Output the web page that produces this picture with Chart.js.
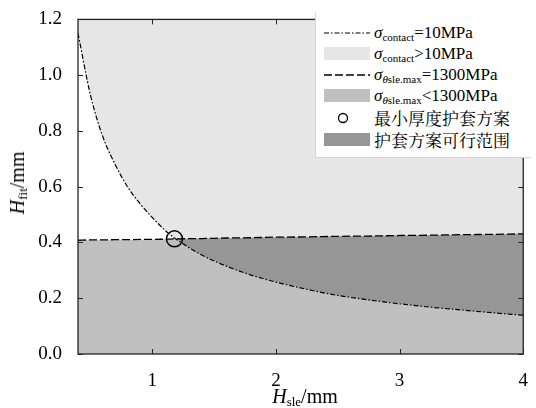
<!DOCTYPE html>
<html>
<head>
<meta charset="utf-8">
<script src="https://cdn.jsdelivr.net/npm/chart.js@4.4.1/dist/chart.umd.min.js"></script>
<style>
  html, body { margin:0; padding:0; background:#fff; }
  #wrap { position:relative; width:536px; height:408px; overflow:hidden; }
  canvas { position:absolute; left:0; top:0; }
  .serif { font-family:"Liberation Serif","Times New Roman",Times,serif; color:#000; }
  .cjk { font-family:"Noto Serif CJK SC","Noto Sans CJK SC",serif; color:#000; }
  #legend { position:absolute; left:315px; top:12px; width:215px; height:145px; background:#fff; border-left:1px solid #d4d4d4; border-bottom:1px solid #d4d4d4; }
  .row { position:absolute; left:0; height:21px; width:215px; }
  .sym { position:absolute; left:8px; top:0; width:46px; height:21px; }
  .txt { position:absolute; left:58px; top:0; line-height:21px; font-size:17px; white-space:nowrap; }
  .txt sub { font-size:11px; vertical-align:-3px; line-height:0; }
  #xtitle { position:absolute; left:0; width:536px; top:386px; line-height:20px; text-align:center; padding-left:74px; box-sizing:border-box; font-size:20px; }
  #ytitle { position:absolute; left:17px; top:183px; line-height:20px; transform:translate(-50%,-50%) rotate(-90deg); font-size:20px; white-space:nowrap; }
  sub.ax { font-size:13px; vertical-align:-3px; line-height:0; }
</style>
</head>
<body>
<div id="wrap">
  <canvas id="c" width="536" height="408"></canvas>
  <div id="xtitle" class="serif"><i>H</i><sub class="ax">sle</sub>/mm</div>
  <div id="ytitle" class="serif"><i>H</i><sub class="ax">fit</sub>/mm</div>
  <div id="legend">
    <div class="row" style="top:10px">
      <svg class="sym"><line x1="0" y1="11" x2="46" y2="11" stroke="#000" stroke-width="1.2" stroke-dasharray="5,2,1.5,2"/></svg>
      <div class="txt serif"><i>σ</i><sub>contact</sub>=10MPa</div>
    </div>
    <div class="row" style="top:31px">
      <svg class="sym"><rect x="0" y="4" width="46" height="13" fill="#e6e6e6"/></svg>
      <div class="txt serif"><i>σ</i><sub>contact</sub>&gt;10MPa</div>
    </div>
    <div class="row" style="top:52px">
      <svg class="sym"><line x1="0" y1="11" x2="46" y2="11" stroke="#000" stroke-width="1.3" stroke-dasharray="8,3"/></svg>
      <div class="txt serif"><i>σ</i><sub><i>θ</i>sle.max</sub>=1300MPa</div>
    </div>
    <div class="row" style="top:73px">
      <svg class="sym"><rect x="0" y="4" width="46" height="13" fill="#c0c0c0"/></svg>
      <div class="txt serif"><i>σ</i><sub><i>θ</i>sle.max</sub>&lt;1300MPa</div>
    </div>
    <div class="row" style="top:95px">
      <svg class="sym"><circle cx="19" cy="11" r="4.5" fill="none" stroke="#000" stroke-width="1.3"/></svg>
      <div class="txt cjk">最小厚度护套方案</div>
    </div>
    <div class="row" style="top:117px">
      <svg class="sym"><rect x="0" y="4" width="46" height="13" fill="#969696"/></svg>
      <div class="txt cjk">护套方案可行范围</div>
    </div>
  </div>
</div>
<script>
// ---- data ----
const hSle = [0.4, 0.5, 0.6, 0.7, 0.8, 0.9, 1.0, 1.1, 1.2, 1.4, 1.6, 1.8, 2.0, 2.25, 2.5, 2.75, 3.0, 3.25, 3.5, 3.75, 4.0];
const hFitContact = [1.15, 0.93, 0.78, 0.68, 0.60, 0.54, 0.49, 0.445, 0.41, 0.355, 0.315, 0.283, 0.258, 0.232, 0.21, 0.194, 0.18, 0.168, 0.158, 0.148, 0.139];
const hFitStress = [0.408, 0.409, 0.409, 0.410, 0.410, 0.411, 0.411, 0.412, 0.413, 0.414, 0.416, 0.417, 0.419, 0.420, 0.422, 0.423, 0.425, 0.426, 0.428, 0.429, 0.431];
const minPoint = [{x: 1.18, y: 0.413}];
const xTicks = [1, 2, 3, 4];
const yTicks = [0.0, 0.2, 0.4, 0.6, 0.8, 1.0, 1.2];

const pts = arr => hSle.map((x, i) => ({x: x, y: arr[i]}));

const LIGHT = '#e6e6e6', MID = '#c0c0c0', DARK = '#969696';
const SERIF = '"Liberation Serif", "Times New Roman", Times, serif';

const framePlugin = {
  id: 'frame',
  afterDatasetsDraw(chart) {
    const {ctx, chartArea: a, scales} = chart;
    ctx.save();
    ctx.strokeStyle = '#222';
    ctx.lineWidth = 1.3;
    ctx.strokeRect(a.left, a.top, a.right - a.left, a.bottom - a.top);
    ctx.lineWidth = 1;
    const L = 5;
    ctx.beginPath();
    xTicks.forEach(v => {
      const px = Math.round(scales.x.getPixelForValue(v)) + 0.5;
      ctx.moveTo(px, a.bottom); ctx.lineTo(px, a.bottom - L);
      ctx.moveTo(px, a.top); ctx.lineTo(px, a.top + L);
    });
    yTicks.forEach(v => {
      const py = Math.round(scales.y.getPixelForValue(v)) + 0.5;
      ctx.moveTo(a.left, py); ctx.lineTo(a.left + L, py);
      ctx.moveTo(a.right, py); ctx.lineTo(a.right - L, py);
    });
    ctx.stroke();
    ctx.restore();
  }
};

function build() {
new Chart(document.getElementById('c'), {
  type: 'line',
  data: {
    datasets: [
      { // 0 contact line
        data: pts(hFitContact), borderColor: '#000', borderWidth: 1.2,
        borderDash: [5, 2, 1.5, 2], pointRadius: 0, fill: false,
        cubicInterpolationMode: 'monotone', order: 1
      },
      { // 1 stress line
        data: pts(hFitStress), borderColor: '#000', borderWidth: 1.3,
        borderDash: [8, 3], pointRadius: 0, fill: false,
        cubicInterpolationMode: 'monotone', order: 1
      },
      { // 2 minimum thickness point
        type: 'scatter', data: minPoint, pointRadius: 8, pointBorderWidth: 1.5,
        pointBorderColor: '#000', pointBackgroundColor: 'rgba(0,0,0,0)',
        showLine: false, order: 0
      },
      { // 3 contact region fill (above curve)
        data: pts(hFitContact), borderWidth: 0, borderColor: 'rgba(0,0,0,0)',
        backgroundColor: LIGHT, pointRadius: 0, fill: 'end',
        cubicInterpolationMode: 'monotone', order: 10
      },
      { // 4 stress region fill (below line)
        data: pts(hFitStress), borderWidth: 0, borderColor: 'rgba(0,0,0,0)',
        backgroundColor: MID, pointRadius: 0, fill: 'origin',
        cubicInterpolationMode: 'monotone', order: 9
      },
      { // 5 feasible region
        data: pts(hFitStress), borderWidth: 0, borderColor: 'rgba(0,0,0,0)',
        backgroundColor: DARK, pointRadius: 0,
        fill: {target: 3, above: DARK, below: 'rgba(0,0,0,0)'},
        cubicInterpolationMode: 'monotone', order: 8
      }
    ]
  },
  options: {
    responsive: false,
    animation: false,
    layout: { padding: { top: 12, right: 5, left: 0, bottom: 0 } },
    plugins: { legend: { display: false }, tooltip: { enabled: false } },
    scales: {
      x: {
        type: 'linear', min: 0.4, max: 4,
        afterBuildTicks: s => { s.ticks = xTicks.map(v => ({value: v})); },
        afterFit: s => { s.height = 54; },
        grid: { display: false }, border: { display: false },
        ticks: { padding: 8, color: '#000', font: { family: SERIF, size: 19 },
                 callback: v => String(v), maxRotation: 0 }
      },
      y: {
        type: 'linear', min: 0, max: 1.2,
        afterBuildTicks: s => { s.ticks = yTicks.map(v => ({value: v})); },
        afterFit: s => { s.width = 78; },
        grid: { display: false }, border: { display: false },
        ticks: { padding: 8, color: '#000', font: { family: SERIF, size: 19 },
                 callback: v => Number(v).toFixed(1) }
      }
    }
  },
  plugins: [framePlugin]
});
}
if (document.fonts && document.fonts.load) {
  Promise.all([document.fonts.load('19px "Liberation Serif"'), document.fonts.load('italic 19px "Liberation Serif"')])
    .then(build, build);
} else { build(); }
</script>
</body>
</html>
